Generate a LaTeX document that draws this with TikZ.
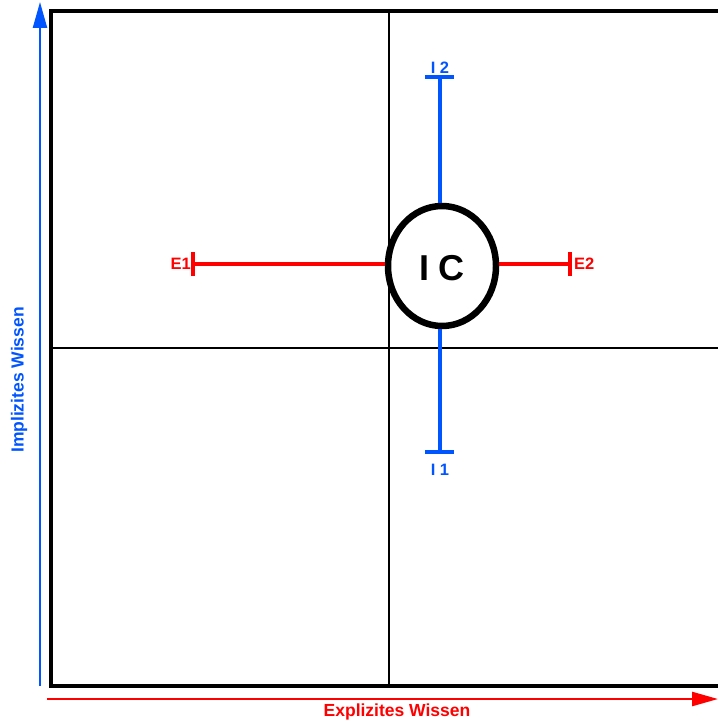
\documentclass[tikz,border=0pt]{standalone}
\usepackage{fontspec}
\setmainfont{Liberation Sans}
\usepackage{tikz}
\usetikzlibrary{arrows.meta,positioning,shapes.geometric}
\definecolor{axisblue}{HTML}{0055ff}
\definecolor{axisred}{HTML}{ff0000}

\begin{document}
\begin{tikzpicture}[
  x=1pt, y=-1pt,
  frame/.style={draw=black, line width=3.2pt},
  grid/.style={draw=black, line width=1.5pt},
  iline/.style={draw=axisblue, line width=3.6pt},
  eline/.style={draw=axisred, line width=3.6pt},
  axis/.style={-{Triangle[length=26pt, width=14pt]}, line width=2.4pt},
  lab/.style={font=\bfseries\fontsize{16.5}{16.5}\selectfont, inner sep=1pt},
  axlab/.style={font=\bfseries\fontsize{17.5}{17.5}\selectfont, inner sep=1pt},
]
\useasboundingbox (0,0) rectangle (717,722);
% quadrants
\draw[frame] (720,11) -- (51,11) -- (51,686) -- (720,686);
\draw[grid] (389,11) -- (389,686);
\draw[grid] (51,348) -- (720,348);
% axes
\coordinate (yfoot) at (40,686);
\coordinate (ytip) at (40,2);
\coordinate (xfoot) at (47,699);
\coordinate (xtip) at (718,699);
\draw[axis, draw=axisblue, fill=axisblue] (yfoot) -- (ytip);
\draw[axis, draw=axisred, fill=axisred] (xfoot) -- (xtip);
\node[axlab, text=axisblue, rotate=90] (ylab) at (19,380) {Implizites Wissen};
\node[axlab, text=axisred] (xlab) at (397,712) {Explizites Wissen};
% I C with ranges
\node[ellipse, draw=black, line width=6.5pt, minimum width=108pt, minimum height=120pt, inner sep=0pt] (ic) at (442,266) {};
\node[font=\bfseries\fontsize{36}{36}\selectfont] (ictext) at (442,268) {I C};
\coordinate (i2) at (440,77);
\coordinate (i1) at (440,452);
\coordinate (e1) at (193,264);
\coordinate (e2) at (570,264);
\draw[iline] (i2) -- (ic.north -| i2);
\draw[iline] (ic.south -| i1) -- (i1);
\draw[eline] (e1) -- (ic.west |- e1);
\draw[eline] (ic.east |- e2) -- (e2);
\draw[iline] ([xshift=-15pt]i2) -- ([xshift=14pt]i2);
\draw[iline] ([xshift=-15pt]i1) -- ([xshift=14pt]i1);
\draw[eline] ([yshift=-12pt]e1) -- ([yshift=12pt]e1);
\draw[eline] ([yshift=-12pt]e2) -- ([yshift=12pt]e2);
\node[lab, text=axisblue, above=2pt of i2] (i2lab) {I 2};
\node[lab, text=axisblue, below=11pt of i1] (i1lab) {I 1};
\node[lab, text=axisred, left=1pt of e1] (e1lab) {E1};
\node[lab, text=axisred, right=3pt of e2] (e2lab) {E2};
\end{tikzpicture}
\end{document}
